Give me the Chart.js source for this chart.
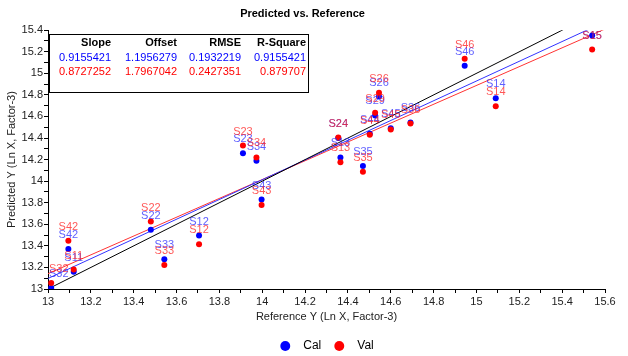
<!DOCTYPE html>
<html>
<head>
<meta charset="utf-8">
<script src="https://cdn.jsdelivr.net/npm/chart.js@4"></script>
<style>
  html, body { margin: 0; padding: 0; background: #fff; }
  #wrap { width: 628px; height: 356px; }
</style>
</head>
<body>
<div id="wrap"><canvas id="c" width="628" height="356"></canvas></div>
<script>
// ---- data ----
const sampleNames = ['S11','S12','S13','S14','S15','S22','S23','S24','S26','S29','S32','S33','S34','S35','S36','S42','S43','S44','S45','S46'];
const referenceY  = [13.12,13.705,14.365,15.09,15.54,13.48,13.91,14.355,14.545,14.527,13.015,13.543,13.973,14.47,14.692,13.095,13.997,14.502,14.6,14.945];
const calPredicted = [13.16,13.495,14.22,14.77,15.35,13.55,14.26,14.40,14.785,14.61,13.01,13.275,14.19,14.14,14.545,13.37,13.83,14.44,14.49,15.07];
const valPredicted = [13.18,13.415,14.175,14.695,15.22,13.625,14.33,14.405,14.82,14.635,13.055,13.222,14.22,14.087,14.535,13.447,13.78,14.43,14.48,15.135];

const statHeaders = ['Slope','Offset','RMSE','R-Square'];
const calStats = ['0.9155421','1.1956279','0.1932219','0.9155421'];
const valStats = ['0.8727252','1.7967042','0.2427351','0.879707'];

const xTickLabels = ['13','13.2','13.4','13.6','13.8','14','14.2','14.4','14.6','14.8','15','15.2','15.4','15.6'];
const yTickLabels = ['13','13.2','13.4','13.6','13.8','14','14.2','14.4','14.6','14.8','15','15.2','15.4'];
const xRange = [13, 15.6];
const yRange = [13, 15.4];

// ---- derived ----
const calSlope = parseFloat(calStats[0]), calOffset = parseFloat(calStats[1]);
const valSlope = parseFloat(valStats[0]), valOffset = parseFloat(valStats[1]);
const toPts = ys => referenceY.map((x, i) => ({x: x, y: ys[i], name: sampleNames[i]}));
const fitLine = (m, b) => xRange.map(x => ({x: x, y: m * x + b}));

const FONT = "'Liberation Sans', Arial, sans-serif";

function tickLabel(list) {
  return function (v) {
    const k = Math.round(v * 10);
    if (k % 2 !== 0) return '';
    const idx = list.findIndex(s => Math.abs(parseFloat(s) - v) < 1e-6);
    return idx >= 0 ? list[idx] : '';
  };
}

const pointLabelPlugin = {
  id: 'pointLabels',
  afterDatasetsDraw(chart) {
    const ctx = chart.ctx, ca = chart.chartArea;
    ctx.save();
    ctx.font = '11px ' + FONT;
    ctx.textAlign = 'center';
    ctx.textBaseline = 'middle';
    chart.data.datasets.forEach((ds, di) => {
      if (!ds.labelColor) return;
      const meta = chart.getDatasetMeta(di);
      ctx.fillStyle = ds.labelColor;
      meta.data.forEach((el, i) => {
        const txt = ds.data[i].name;
        const w = ctx.measureText(txt).width;
        let x = el.x, y = el.y - 14;
        if (x - w / 2 < ca.left + 1) x = ca.left + 1 + w / 2;
        if (x + w / 2 > ca.right) x = ca.right - w / 2;
        if (y - 6 < ca.top) y = ca.top + 6;
        ctx.fillText(txt, x, y);
      });
    });
    ctx.restore();
  }
};

const statsBoxPlugin = {
  id: 'statsBox',
  afterDraw(chart) {
    const ctx = chart.ctx, ca = chart.chartArea;
    const left = ca.left + 1, top = ca.top + 4, w = 259, h = 58;
    ctx.save();
    ctx.fillStyle = '#fff';
    ctx.fillRect(left, top, w, h);
    ctx.strokeStyle = '#000';
    ctx.lineWidth = 1;
    ctx.strokeRect(Math.round(left) + 0.5, Math.round(top) + 0.5, w, h);
    const colRight = [62, 128, 192, 257];
    const rows = [
      {vals: statHeaders, color: '#000', font: 'bold 11px ' + FONT, dy: 9},
      {vals: calStats, color: '#0000ff', font: '11px ' + FONT, dy: 24},
      {vals: valStats, color: '#ff0000', font: '11px ' + FONT, dy: 37.5}
    ];
    ctx.textAlign = 'right';
    ctx.textBaseline = 'middle';
    rows.forEach(r => {
      ctx.font = r.font;
      ctx.fillStyle = r.color;
      r.vals.forEach((v, i) => ctx.fillText(v, left + colRight[i], top + r.dy));
    });
    ctx.restore();
  }
};

new Chart(document.getElementById('c'), {
  type: 'scatter',
  data: {
    datasets: [
      {label: 'Cal', data: toPts(calPredicted), order: 2, pointRadius: 3, pointHoverRadius: 3,
       backgroundColor: '#0000ff', borderColor: '#0000ff', borderWidth: 0, labelColor: 'rgba(40,40,255,0.75)'},
      {label: 'Val', data: toPts(valPredicted), order: 1, pointRadius: 3, pointHoverRadius: 3,
       backgroundColor: '#ff0000', borderColor: '#ff0000', borderWidth: 0, labelColor: 'rgba(255,30,30,0.75)'},
      {label: 'calFit', data: fitLine(calSlope, calOffset), showLine: true, pointRadius: 0, borderWidth: 1,
       borderColor: '#3333ff', order: 4},
      {label: 'valFit', data: fitLine(valSlope, valOffset), showLine: true, pointRadius: 0, borderWidth: 1,
       borderColor: '#ff3333', order: 5},
      {label: 'ideal', data: fitLine(1, 0), showLine: true, pointRadius: 0, borderWidth: 1,
       borderColor: '#000000', order: 3}
    ]
  },
  options: {
    responsive: false,
    animation: false,
    events: [],
    layout: {padding: {left: 0, right: 23, top: 0, bottom: -6}},
    plugins: {
      tooltip: {enabled: false},
      title: {
        display: true, text: 'Predicted vs. Reference', color: '#000',
        font: {family: FONT, size: 11, weight: 'bold'},
        padding: {top: 7, bottom: 10}
      },
      legend: {
        position: 'bottom',
        fullSize: false,
        labels: {
          usePointStyle: true, pointStyle: 'circle', boxWidth: 12, boxHeight: 7,
          color: '#000', padding: 12,
          font: {family: FONT, size: 12},
          filter: item => item.datasetIndex < 2,
          sort: (a, b) => a.datasetIndex - b.datasetIndex,
          generateLabels: chart => {
            const base = Chart.defaults.plugins.legend.labels.generateLabels(chart);
            return base.map(it => Object.assign(it, {text: '\u2002' + it.text}));
          }
        }
      }
    },
    scales: {
      x: {
        type: 'linear', min: xRange[0], max: xRange[1],
        afterFit: s => { s.height = 39; },
        ticks: {stepSize: 0.1, autoSkip: false, maxRotation: 0, color: '#222', padding: 2,
                font: {family: FONT, size: 11}, callback: tickLabel(xTickLabels)},
        grid: {drawOnChartArea: false, drawTicks: true, tickLength: 4, color: '#000'},
        border: {display: true, color: '#000', width: 1},
        title: {display: true, text: 'Reference Y (Ln X, Factor-3)', color: '#222',
                font: {family: FONT, size: 11}, padding: {top: 0, bottom: 4}}
      },
      y: {
        type: 'linear', min: yRange[0], max: yRange[1],
        afterFit: s => { s.width = 48; },
        ticks: {stepSize: 0.1, autoSkip: false, color: '#222', padding: 1,
                font: {family: FONT, size: 11}, callback: tickLabel(yTickLabels)},
        grid: {drawOnChartArea: false, drawTicks: true, tickLength: 4, color: '#000'},
        border: {display: true, color: '#000', width: 1},
        title: {display: true, text: 'Predicted Y (Ln X, Factor-3)', color: '#222',
                font: {family: FONT, size: 11}, padding: {top: 5, bottom: 0}}
      }
    }
  },
  plugins: [pointLabelPlugin, statsBoxPlugin]
});
</script>
</body>
</html>
